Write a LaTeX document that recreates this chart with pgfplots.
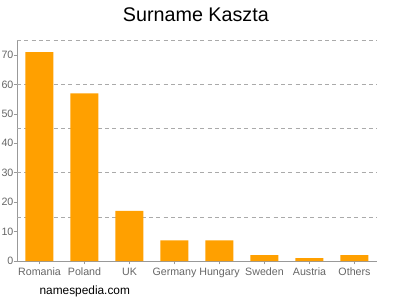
\documentclass[border=0pt]{standalone}
\usepackage{pgfplots}
\pgfplotsset{compat=1.18}
\usepackage{fontspec}
\setmainfont{Liberation Sans}
\definecolor{barc}{HTML}{FFA000}
\definecolor{axc}{HTML}{999999}
\definecolor{tickc}{HTML}{666666}
\definecolor{gridc}{HTML}{AAAAAA}
\begin{document}
\begin{tikzpicture}
\useasboundingbox (0,0) rectangle (300pt,225pt);
\begin{axis}[
  at={(12.75pt,29.25pt)}, anchor=south west,
  scale only axis, width=270pt, height=165.5pt,
  xmin=-0.5, xmax=7.5, ymin=0, ymax=75,
  axis x line*=bottom, axis y line*=left,
  axis line style={axc, line width=0.6pt, -},
  ytick={0,10,...,70},
  xtick=data,
  xticklabels={Romania,Poland,UK,Germany,Hungary,Sweden,Austria,Others},
  extra y ticks={15,30,45,60,75},
  extra y tick labels={},
  extra y tick style={grid=major, major tick length=0pt, grid style={gridc, dashed, line width=0.5pt, dash pattern=on 3pt off 2.5pt}},
  tick style={axc, line width=0.5pt},
  major tick length=2.5pt,
  tick align=outside,
  ticklabel style={font=\fontsize{8}{9}\selectfont, text=tickc},
  yticklabel style={anchor=east, inner xsep=0pt, xshift=0pt},
  xticklabel style={yshift=1pt},
  /pgf/number format/assume math mode=true,
  clip=false,
]
\addplot[ybar, bar width=21pt, fill=barc, draw=none] coordinates {
  (0,71) (1,57) (2,17) (3,7) (4,7) (5,2) (6,1) (7,2)
};
\end{axis}
\node[anchor=base, font=\fontsize{14.8}{16}\selectfont] at (146.9pt,208.5pt) {Surname Kaszta};
\node[anchor=base west, font=\fontsize{8.9}{10}\selectfont, inner sep=0pt] at (29.5pt,4.5pt) {namespedia.com};
\end{tikzpicture}
\end{document}
